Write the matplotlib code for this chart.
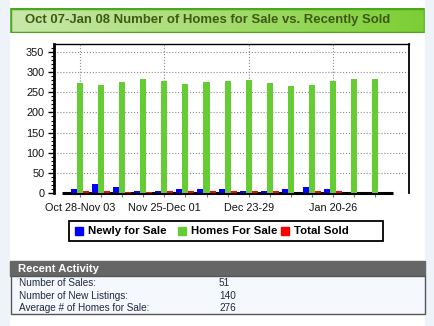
import numpy as np
import matplotlib.pyplot as plt
from matplotlib.patches import Rectangle
from matplotlib.colors import LinearSegmentedColormap

# weekly counts, Oct 28 2007 - Feb 09 2008
weeks = ['Oct 28-Nov 03', 'Nov 04-10', 'Nov 11-17', 'Nov 18-24', 'Nov 25-Dec 01',
         'Dec 02-08', 'Dec 09-15', 'Dec 16-22', 'Dec 23-29', 'Dec 30-Jan 05',
         'Jan 06-12', 'Jan 13-19', 'Jan 20-26', 'Jan 27-Feb 02', 'Feb 03-09']
newly_for_sale = [11, 22, 16, 6, 5, 11, 9, 11, 5, 5, 11, 16, 11, 1, 0]
homes_for_sale = [274, 268, 276, 283, 279, 271, 276, 278, 281, 273, 266, 268, 278, 283, 283]
total_sold = [5, 5, 2, 2, 5, 4, 5, 4, 5, 5, 1, 4, 4, 0, 0]

series_names = ['Newly for Sale', 'Homes For Sale', 'Total Sold']
series_colors = ['#0000ff', '#66cc33', '#ff0000']

activity_labels = ['Number of Sales:', 'Number of New Listings:', 'Average # of Homes for Sale:']
activity_values = ['51', '140', '276']

W, H = 434, 326
FONT = 'Liberation Sans'


def box(x, y, w, h):
    # pixel box (top-left origin) -> figure fraction rect
    return [x / W, 1 - (y + h) / H, w / W, h / H]


def fig_rect(x, y, w, h, **kw):
    l, b, fw, fh = box(x, y, w, h)
    fig.patches.append(Rectangle((l, b), fw, fh, transform=fig.transFigure, **kw))


fig = plt.figure(figsize=(W / 100, H / 100), dpi=100, facecolor='white')

# pale side bands
fig_rect(0, 0, 9, H, color='#eef3f9', zorder=0)
fig_rect(425, 0, 9, H, color='#eef3f9', zorder=0)

# green title bar
tax = fig.add_axes(box(10, 7.5, 415, 25.5))
grad = np.linspace(0, 1, 256)[None, :]
gcmap = LinearSegmentedColormap.from_list('g', ['#c9e7ab', '#a6dc70', '#7cce34'])
tax.imshow(grad, aspect='auto', cmap=gcmap, extent=[0, 1, 0, 1])
tax.add_patch(Rectangle((0, 0), 1, 1, transform=tax.transAxes, fill=False,
                        edgecolor='#4aa91a', lw=2.5))
tax.set_xlim(0, 1)
tax.set_ylim(0, 1)
tax.axis('off')
fig.text(25 / W, 1 - 20.5 / H, 'Oct 07-Jan 08 Number of Homes for Sale vs. Recently Sold',
         family=FONT, fontsize=9.45, fontweight='bold', color='#3d5a14', va='center')

# bar chart
ax = fig.add_axes(box(54, 44, 355, 149))
x = np.arange(len(weeks))
w = 0.285
ax.hlines(0, x[0] - 0.86, x[-1] + 0.86, color='black', lw=2.2, zorder=2, clip_on=False)
for off, vals, col in zip((-w, 0, w), (newly_for_sale, homes_for_sale, total_sold),
                          series_colors):
    ax.bar(x + off, vals, w, color=col, zorder=3)

ax.set_xlim(-1.23, 15.6)
ax.set_ylim(0, 370)
ax.set_yticks(np.arange(0, 351, 50))
ax.set_yticks(np.arange(0, 361, 10), minor=True)
ax.set_xticks(x[::4], weeks[::4])
ax.set_xticks(x, minor=True)
ax.grid(axis='y', which='major', ls=':', color='#8a8a8a', lw=0.8)
ax.grid(axis='x', which='major', ls=':', color='#8a8a8a', lw=0.8)
ax.set_axisbelow(True)
ax.spines['bottom'].set_visible(False)
ax.spines['left'].set_linewidth(2)
ax.spines['top'].set_linewidth(1)
ax.spines['right'].set_linewidth(1.3)
ax.tick_params(axis='y', which='major', length=4, width=1, pad=3, labelsize=7.8)
ax.tick_params(axis='y', which='minor', length=2, width=0.8)
ax.tick_params(axis='x', which='both', length=3, width=0.8, color='#777777', pad=4, labelsize=7.8)
for lab in ax.get_xticklabels() + ax.get_yticklabels():
    lab.set_family(FONT)
    lab.set_color('#111111')

# legend box
fig_rect(69, 221, 314, 20, facecolor='white', edgecolor='black', lw=1.3, zorder=1)
for sx, name, col in zip((75, 178, 281), series_names, series_colors):
    fig_rect(sx, 227, 8, 8, color=col, zorder=2)
    fig.text((sx + 13) / W, 1 - 231.5 / H, name, family=FONT, fontsize=8.2,
             fontweight='bold', color='black', va='center')

# recent activity panel
fig_rect(10, 261, 415, 15, color='#666666', zorder=1)
fig.text(18 / W, 1 - 268.5 / H, 'Recent Activity', family=FONT, fontsize=8.1,
         fontweight='bold', color='white', va='center')
fig_rect(10.5, 276, 414, 38, facecolor='#f5f8fc', edgecolor='#555555', lw=1, zorder=1)
for i, (lab, val) in enumerate(zip(activity_labels, activity_values)):
    yy = 1 - (283.5 + 12.3 * i) / H
    fig.text(19 / W, yy, lab, family=FONT, fontsize=7.2, color='#1e2a40', va='center')
    fig.text(219 / W, yy, val, family=FONT, fontsize=7.2, color='#1e2a40', va='center')

fig.savefig('out.png', dpi=100)
